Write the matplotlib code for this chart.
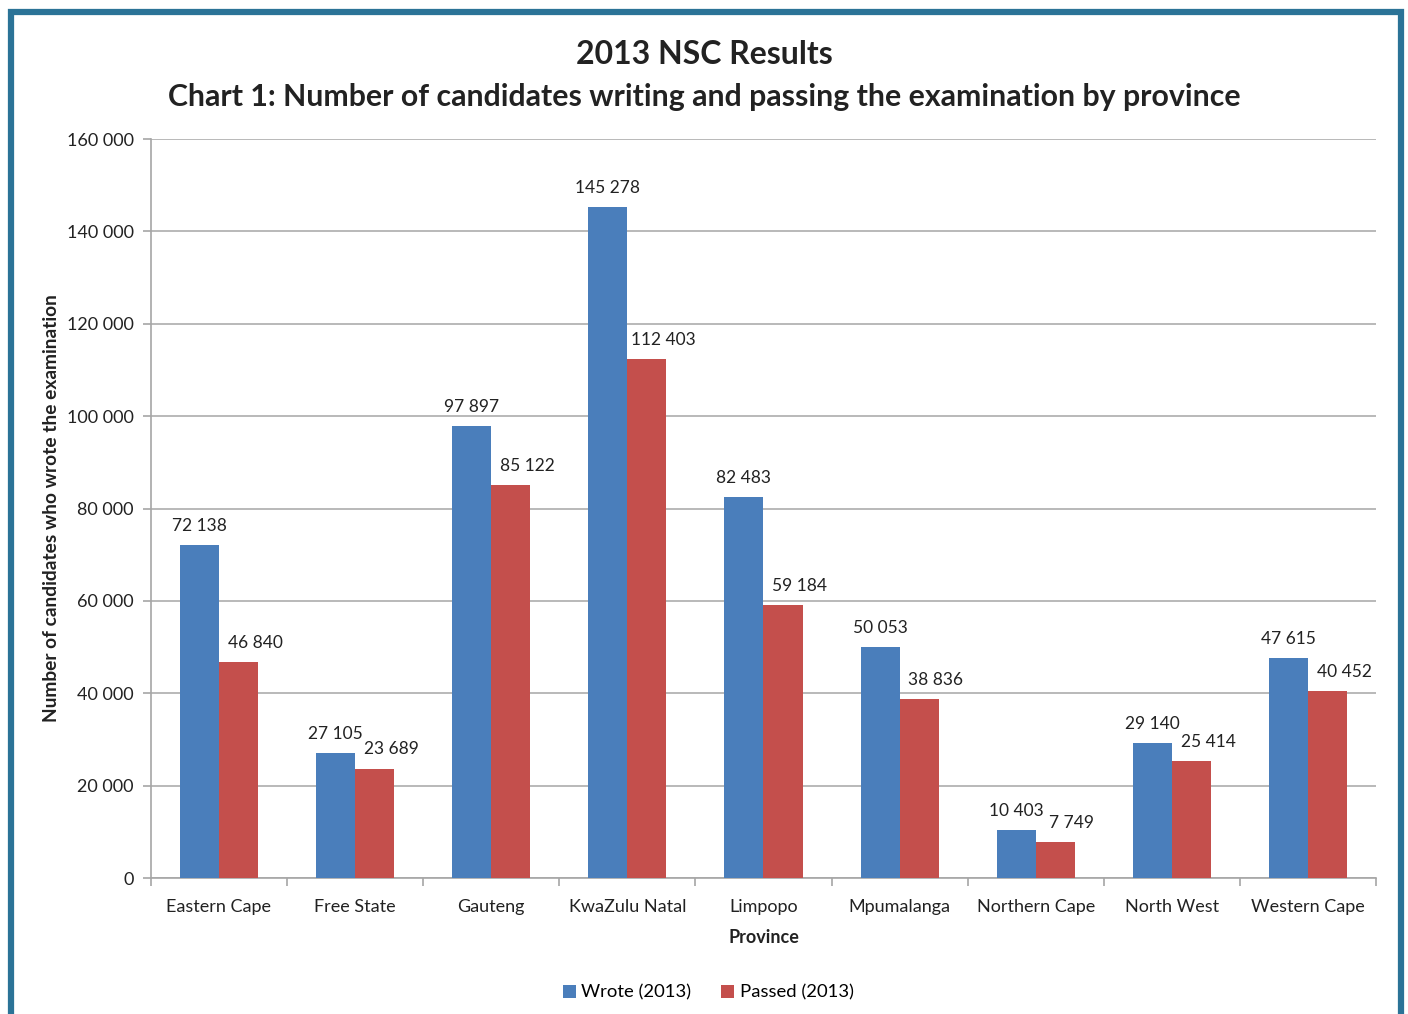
import matplotlib.pyplot as plt
import numpy as np
from matplotlib.patches import Rectangle

plt.rcParams['font.family'] = ['Lato', 'DejaVu Sans']

provinces = ['Eastern Cape', 'Free State', 'Gauteng', 'KwaZulu Natal', 'Limpopo',
             'Mpumalanga', 'Northern Cape', 'North West', 'Western Cape']
wrote = [72138, 27105, 97897, 145278, 82483, 50053, 10403, 29140, 47615]
passed = [46840, 23689, 85122, 112403, 59184, 38836, 7749, 25414, 40452]
yticks = [0, 20000, 40000, 60000, 80000, 100000, 120000, 140000, 160000]

blue = '#4a7ebb'
red = '#c44f4c'
grey = '#a6a6a6'


def fmt(v):
    return '{:,}'.format(v).replace(',', ' ')


fig = plt.figure(figsize=(14.08, 10.14), dpi=100)
ax = fig.add_axes([0.1072, 0.1341, 0.8701, 0.7288])

x = np.arange(len(provinces))
w = 0.287
b1 = ax.bar(x - w / 2, wrote, w, color=blue, label='Wrote (2013)', zorder=3)
b2 = ax.bar(x + w / 2, passed, w, color=red, label='Passed (2013)', zorder=3)

for rect, v in zip(b1, wrote):
    ax.annotate(fmt(v), (rect.get_x() + rect.get_width() / 2, rect.get_height()),
                xytext=(0, 8), textcoords='offset points', ha='center', va='bottom',
                fontsize=12.5, color='#222222')
for rect, v in zip(b2, passed):
    ax.annotate(fmt(v), (rect.get_x() + rect.get_width() / 2, rect.get_height()),
                xytext=(12, 8), textcoords='offset points', ha='center', va='bottom',
                fontsize=12.5, color='#222222')

ax.set_xlim(-0.5, len(provinces) - 0.5)
ax.set_ylim(0, 160000)
ax.set_yticks(yticks)
ax.set_yticklabels([fmt(t) for t in yticks], fontsize=13, color='#222222')
ax.set_xticks(x)
ax.set_xticklabels(provinces, fontsize=13, color='#222222')
ax.tick_params(axis='x', length=0, pad=15)
ax.set_xticks(np.arange(len(provinces) + 1) - 0.5, minor=True)
ax.tick_params(axis='x', which='minor', length=6, color=grey, width=1.2)
ax.tick_params(axis='y', length=6, color=grey, width=1.2, pad=6.5)

ax.grid(True, axis='y', color=grey, linewidth=1.1, zorder=0)
for s in ['top', 'right']:
    ax.spines[s].set_visible(False)
for s in ['left', 'bottom']:
    ax.spines[s].set_color(grey)
    ax.spines[s].set_linewidth(1.2)

ax.set_ylabel('Number of candidates who wrote the examination', fontsize=13.8,
              fontweight='bold', color='#222222', labelpad=5)
ax.set_xlabel('Province', fontsize=13, fontweight='bold', color='#222222', labelpad=10)

fig.text(0.5, 0.946, '2013 NSC Results', ha='center', va='center',
         fontsize=23, fontweight='bold', color='#222222')
fig.text(0.5, 0.904, 'Chart 1: Number of candidates writing and passing the examination by province',
         ha='center', va='center', fontsize=21.8, fontweight='bold', color='#222222')

fig.legend(loc='center', bbox_to_anchor=(0.503, 0.021), ncol=2, frameon=False,
           fontsize=13.3, handlelength=0.7, handleheight=0.7, handletextpad=0.3,
           columnspacing=1.6)

fig.patches.append(Rectangle((11 / 1408, -0.05), 1390 / 1408, 1.05 - 12 / 1014,
                             transform=fig.transFigure, fill=False,
                             edgecolor='#2b7397', linewidth=4.5, zorder=10))

fig.savefig('out.png', dpi=100)
